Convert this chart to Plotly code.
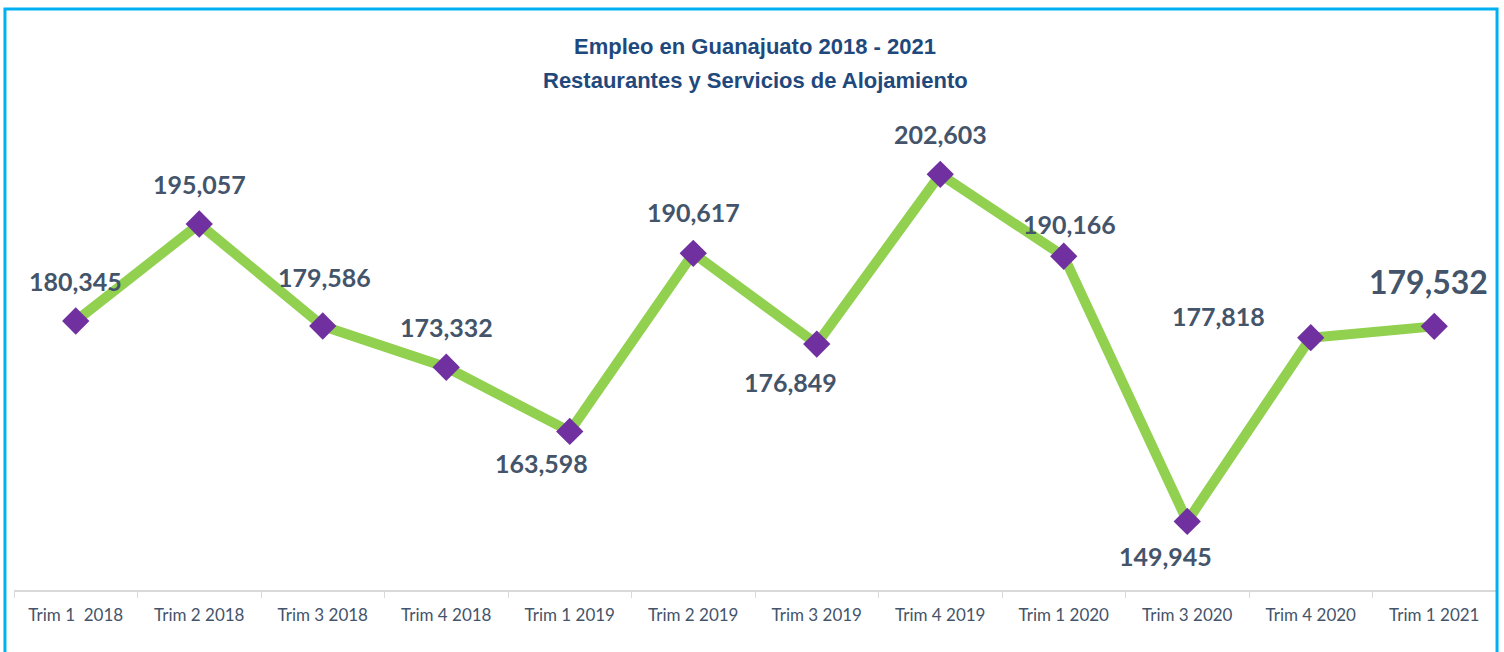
import plotly.graph_objects as go

categories = ["Trim 1\u00a0 2018", "Trim 2 2018", "Trim 3 2018", "Trim 4 2018",
              "Trim 1 2019", "Trim 2 2019", "Trim 3 2019", "Trim 4 2019",
              "Trim 1 2020", "Trim 3 2020", "Trim 4 2020", "Trim 1 2021"]
empleo = [180345, 195057, 179586, 173332, 163598, 190617, 176849, 202603,
          190166, 149945, 177818, 179532]

title_line1 = "Empleo en Guanajuato 2018 - 2021"
title_line2 = "Restaurantes y Servicios de Alojamiento"

# label offsets in pixels (style only)
label_dx = [0, 0, 2, 0, -28, 0, -26, 0, 6, -22, -92, -6]
label_dy = [40, 40, 49, 40, -32, 41, -38, 40, 32, -35, 22, 45]
label_size = [25] * 11 + [32]

fig = go.Figure()
fig.add_trace(go.Scatter(
    x=categories, y=empleo, mode="lines+markers",
    line=dict(color="#92D050", width=10),
    marker=dict(symbol="diamond", size=21, color="#7030A0"),
    hoverinfo="x+y", showlegend=False,
))

for c, v, dx, dy, s in zip(categories, empleo, label_dx, label_dy, label_size):
    fig.add_annotation(x=c, y=v, text=f"{v:,}", showarrow=False,
                       xshift=dx, yshift=dy,
                       font=dict(family="Lato", size=s, color="#44546A", weight="bold"))

title_font = dict(family="Liberation Sans, Arial", size=22, color="#1F497D", weight="bold")
fig.add_annotation(xref="paper", yref="paper", x=0.5, y=1.1333, text=title_line1,
                   showarrow=False, xanchor="center", yanchor="middle", font=title_font)
fig.add_annotation(xref="paper", yref="paper", x=0.5, y=1.0625, text=title_line2,
                   showarrow=False, xanchor="center", yanchor="middle", font=title_font)

fig.update_layout(
    width=1504, height=652,
    margin=dict(l=14, r=8, t=110, b=62),
    paper_bgcolor="white", plot_bgcolor="white",
    xaxis=dict(
        range=[-0.5, 11.5],
        showgrid=False, showline=True, linecolor="#D9D9D9", linewidth=1.5,
        ticks="outside", tickson="boundaries", ticklen=6, tickcolor="#D9D9D9",
        tickfont=dict(family="Lato", size=17, color="#44546A"),
        ticklabelstandoff=9,
    ),
    yaxis=dict(range=[139538, 212354], visible=False, showgrid=False, zeroline=False),
)

# outer border
fig.add_shape(type="rect", xref="paper", yref="paper",
              x0=-0.0061, x1=1.0007, y0=-0.2, y1=1.2104,
              line=dict(color="#00B0F0", width=3), fillcolor="rgba(0,0,0,0)")

fig.write_html("out.html", config={"displayModeBar": False},
               post_script="document.body.style.margin='0';")
